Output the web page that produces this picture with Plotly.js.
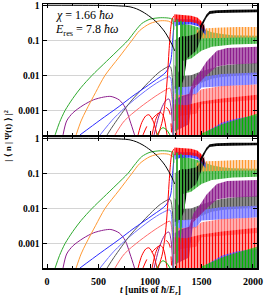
<!DOCTYPE html>
<html><head><meta charset="utf-8">
<script src="https://cdn.plot.ly/plotly-3.0.1.min.js"></script>
<style>body{margin:0;background:#fff}</style></head>
<body><div id="c" style="width:266px;height:298px"></div>
<script>
// ---------- smooth (pre-collapse) curves: time t, population v ----------
const blackT = [0,400,612,720,806,870,932,1000,1068,1146,1214,1240];
const blackV = [1,0.995,0.98,0.95,0.9,0.79,0.64,0.47,0.32,0.17,0.075,0.05];
const greenT = [78,120,175,250,330,437,550,670,786,860,920,1000,1100,1180,1215,1232];
const greenV = [2e-4,4.5e-4,1e-3,2.2e-3,4.5e-3,0.01,0.021,0.046,0.1,0.19,0.3,0.4,0.44,0.43,0.4,0.2];
const orangeT = [282,330,379,470,563,700,825,900,1000,1100,1180,1222];
const orangeV = [2e-4,5e-4,1e-3,3.2e-3,0.01,0.033,0.1,0.19,0.3,0.36,0.35,0.3];
const blueT = [320,515,700,835,1029,1156,1200,1220,1235];
const blueV = [2e-4,5.3e-4,1.3e-3,2.6e-3,6.5e-3,0.0125,0.024,0.1,0.35];
const lblueT = [515,650,806,1000,1120,1194,1215,1230];
const lblueV = [2e-4,6e-4,1.6e-3,4.5e-3,7.5e-3,9e-3,3e-3,2e-4];
const grayT = [583,650,806,1000,1100,1194,1215,1232];
const grayV = [2e-4,4e-4,1.7e-3,7e-3,0.013,0.018,0.01,5e-4];
const pinkT = [660,750,900,1050,1150,1194,1215,1228];
const pinkV = [2e-4,5e-4,1.2e-3,2.5e-3,3.8e-3,4.3e-3,2e-3,2e-4];
const purple1T = [155,190,250,350,450,550,620,700,760,806,850];
const purple1V = [2e-4,5e-4,8.5e-4,1.4e-3,2e-3,2.4e-3,2.5e-3,2e-3,1.2e-3,5e-4,2e-4];
const purple2T = [1040,1080,1120,1160,1185,1205,1222];
const purple2V = [2e-4,6e-4,1.3e-3,2e-3,2.1e-3,1.2e-3,2e-4];
const redArc1T = [884,920,960,990,1030,1068];
const redArc1V = [2e-4,4.5e-4,7e-4,7.5e-4,5e-4,2e-4];
const redArc2T = [1020,1060,1097,1130,1165];
const redArc2V = [2e-4,6e-4,9e-4,7e-4,2e-4];
const redDashT = [932,980,1050,1120,1160,1190,1210];
const redDashV = [2e-4,4e-4,7e-4,1e-3,1.2e-3,9e-4,2e-4];
const redRiseT = [1080,1120,1150,1170,1185,1200,1215,1235];
const redRiseV = [2e-4,5e-4,2e-3,0.01,0.05,0.2,0.4,0.5];
const gArcT = [1068,1100,1126,1160,1194];
const gArcV = [2e-4,2.8e-4,3.2e-4,2.8e-4,2e-4];

// ---------- chaotic region: time t, lower / upper envelope ----------
const cGrayT = [1240,1300,1400,1500,1600,1700,1850,2040];
const cGrayLo = [0.003,0.0045,0.0047,0.006,0.008,0.009,0.01,0.011];
const cGrayHi = [0.02,0.0095,0.01,0.013,0.016,0.019,0.021,0.023];
const cLblueT = [1240,1300,1450,1500,1700,2040];
const cLblueLo = [0.001,0.0024,0.0028,0.0045,0.005,0.0055];
const cLblueHi = [0.005,0.0046,0.005,0.009,0.011,0.012];
const cPinkT = [1240,1300,1450,1500,1700,2040];
const cPinkLo = [5e-4,7e-4,8e-4,0.0015,0.0017,0.002];
const cPinkHi = [0.003,0.0027,0.003,0.004,0.005,0.0055];
const cPurpleT = [1240,1300,1380,1420,1480,1550,1650,1750,2040];
const cPurpleLo = [2.5e-4,3e-4,4e-4,0.004,0.006,0.01,0.018,0.02,0.022];
const cPurpleHi = [0.002,0.0025,0.003,0.007,0.012,0.025,0.05,0.06,0.065];
const cRedT = [1240,1350,1500,1700,2040];
const cRedLo = [1.5e-4,1.5e-4,1.5e-4,1.5e-4,1.5e-4];
const cRedHi = [0.0015,0.0014,0.0018,0.0022,0.0028];
const cDblueT = [1550,1700,1850,2040];
const cDblueLo = [1.5e-4,1.5e-4,1.5e-4,1.5e-4];
const cDblueHi = [2.5e-4,4.5e-4,6e-4,7e-4];
const cGbotT = [1500,1600,1700,1800,1900,2040];
const cGbotLo = [1.5e-4,1.5e-4,1.5e-4,1.5e-4,1.5e-4,1.5e-4];
const cGbotHi = [2.2e-4,3e-4,4e-4,5e-4,6e-4,8e-4];
const cOrangeT = [1450,1550,1700,1850,2040];
const cOrangeLo = [0.11,0.115,0.12,0.12,0.12];
const cOrangeHi = [0.2,0.22,0.23,0.24,0.24];
const cCollapseT = [1228,1250,1280,1310,1340];
const cCollapseLo = [2e-4,2e-4,4e-4,0.003,0.01];
const cCollapseHi = [0.42,0.4,0.38,0.36,0.33];
const cGreenT = [1300,1400,1500,1600,1700,1800,2040];
const cGreenLo = [0.025,0.03,0.05,0.065,0.072,0.076,0.08];
const cGreenHi = [0.3,0.27,0.22,0.17,0.15,0.14,0.135];
const cBlueTopT = [1245,1300,1400,1470,1510,1540];
const cBlueTopLo = [0.25,0.28,0.28,0.25,0.18,0.14];
const cBlueTopHi = [0.42,0.4,0.4,0.36,0.3,0.2];
const cRedTopT = [1235,1300,1400,1460,1500,1530];
const cRedTopLo = [0.33,0.34,0.33,0.3,0.22,0.18];
const cRedTopHi = [0.55,0.52,0.5,0.45,0.35,0.25];
const cBlackT = [1240,1300,1330,1360,1450,1500,1530];
const cBlackLo = [0.004,0.005,0.008,0.03,0.05,0.12,0.2];
const cBlackHi = [0.1,0.13,0.13,0.13,0.15,0.22,0.3];
const cBlackLateT = [1486,1520,1550,1580,1650,1800,2040];
const cBlackLateLo = [0.18,0.3,0.45,0.56,0.6,0.62,0.63];
const cBlackLateHi = [0.26,0.4,0.55,0.68,0.72,0.74,0.75];

const C = {black:'#000000', green:'#2eaa2e', orange:'#ff9933', blue:'#2b2bff', lblue:'#6f6fff',
  gray:'#555555', pink:'#ff6b6b', purple:'#8e1e8e', red:'#ff0000', gbright:'#00b400'};

const traces = [];
function line(t, v, color, ax, dash) {
  traces.push({type:'scatter', mode:'lines', x:t, y:v, xaxis:'x'+ax, yaxis:'y'+ax,
    line:{color:color, width:1, dash:dash||'solid', shape:'spline', smoothing:0.8}, hoverinfo:'skip'});
}
function band(t, lo, hi, color, ax, solidity, size) {
  const x = t.concat(t.slice().reverse());
  const y = hi.concat(lo.slice().reverse());
  traces.push({type:'scatter', mode:'lines', x:x, y:y, xaxis:'x'+ax, yaxis:'y'+ax, fill:'toself',
    line:{width:0, color:color}, fillcolor:'rgba(0,0,0,0)',
    fillpattern:{shape:'|', fgcolor:color, bgcolor:'rgba(0,0,0,0)', size:size||3, solidity:solidity||0.8},
    hoverinfo:'skip'});
}
for (const ax of ['', '2']) {
  line(purple1T, purple1V, C.purple, ax);
  line(purple2T, purple2V, C.purple, ax);
  line(redArc1T, redArc1V, C.red, ax);
  line(redArc2T, redArc2V, C.red, ax);
  line(redDashT, redDashV, C.red, ax, 'dash');
  line(gArcT, gArcV, C.gbright, ax);
  line(pinkT, pinkV, C.pink, ax);
  line(lblueT, lblueV, C.lblue, ax);
  line(grayT, grayV, C.gray, ax);
  line(blueT, blueV, C.blue, ax);
  line(orangeT, orangeV, C.orange, ax);
  line(greenT, greenV, C.green, ax);
  line(redRiseT, redRiseV, C.red, ax);
  line(blackT, blackV, C.black, ax);

  band(cGrayT, cGrayLo, cGrayHi, C.gray, ax);
  band(cLblueT, cLblueLo, cLblueHi, C.lblue, ax);
  band(cPinkT, cPinkLo, cPinkHi, C.pink, ax, 0.7);
  band(cPurpleT, cPurpleLo, cPurpleHi, C.purple, ax);
  band(cRedT, cRedLo, cRedHi, C.red, ax, 0.6);
  band(cDblueT, cDblueLo, cDblueHi, C.blue, ax, 0.6);
  band(cGbotT, cGbotLo, cGbotHi, C.gbright, ax, 0.7);
  band(cGreenT, cGreenLo, cGreenHi, C.green, ax);
  band(cOrangeT, cOrangeLo, cOrangeHi, C.orange, ax, 0.6);
  band(cBlueTopT, cBlueTopLo, cBlueTopHi, C.blue, ax);
  band(cRedTopT, cRedTopLo, cRedTopHi, C.red, ax);
  band(cBlackT, cBlackLo, cBlackHi, C.black, ax, 0.6);
  band(cCollapseT, cCollapseLo, cCollapseHi, C.green, ax, 0.45, 4);
  band(cBlackLateT, cBlackLateLo, cBlackLateHi, C.black, ax, 0.95);
}

const yTicks = [0.001, 0.01, 0.1, 1];
const yTickText = ['0.001', '0.01', '0.1', '1'];
const xTicks = [0, 500, 1000, 1500, 2000];

const serif = 'Liberation Serif, Times New Roman, serif';
function xAx(anchor, labels) {
  return {domain:[0,1], anchor:anchor, range:[-40,2040], tickvals:xTicks, ticktext:xTicks.map(String),
    showticklabels:labels, ticks:'inside', ticklen:4, tickwidth:1, tickcolor:'#000', mirror:'ticks',
    showline:true, linewidth:1.5, linecolor:'#000', showgrid:false, zeroline:false, ticklabelstandoff:3,
    minor:{dtick:250, tick0:0, ticks:'inside', ticklen:2, tickcolor:'#000', showgrid:false},
    tickfont:{family:serif, size:10, color:'#000', weight:'bold'}};
}
function yAx(anchor, domain) {
  return {domain:domain, anchor:anchor, type:'log', range:[-3.7,0.035], tickvals:yTicks, ticktext:yTickText,
    ticks:'inside', ticklen:4, tickwidth:1, tickcolor:'#000', mirror:'ticks', showline:true, linewidth:1.5,
    linecolor:'#000', showgrid:true, gridcolor:'#d4d4d4', gridwidth:1, zeroline:false,
    tickfont:{family:serif, size:9.5, color:'#000', weight:'bold'}};
}
const layout = {
  width:266, height:298, margin:{l:43, r:9, t:4, b:30}, showlegend:false,
  paper_bgcolor:'#fff', plot_bgcolor:'#fff',
  xaxis:xAx('y', false), yaxis:yAx('x', [0.504, 1]),
  xaxis2:xAx('y2', true), yaxis2:yAx('x2', [0, 0.496]),
  annotations:[
    {xref:'paper', yref:'paper', x:0.052, y:0.958, xanchor:'left', yanchor:'middle', showarrow:false,
     text:'<i>χ</i> = 1.66 <i>ħω</i>', font:{family:serif, size:12, color:'#000'}},
    {xref:'paper', yref:'paper', x:0.045, y:0.9, xanchor:'left', yanchor:'middle', showarrow:false,
     text:'<i>E</i><sub>res</sub> = 7.8 <i>ħω</i>', font:{family:serif, size:12, color:'#000'}},
    {xref:'paper', yref:'paper', x:-0.165, y:0.5, xanchor:'center', yanchor:'middle', showarrow:false,
     textangle:-90, text:'| ⟨ n | Ψ(t) ⟩ |<sup>2</sup>', font:{family:serif, size:9, color:'#000', weight:'bold'}},
    {xref:'paper', yref:'paper', x:0.5, y:-0.112, xanchor:'center', yanchor:'bottom', showarrow:false,
     text:'<i>t</i> [units of <i>ħ</i>/<i>E<sub>r</sub></i>]', font:{family:serif, size:9.5, color:'#000', weight:'bold'}}
  ]
};
Plotly.newPlot('c', traces, layout, {staticPlot:true, displayModeBar:false});
</script></body></html>
